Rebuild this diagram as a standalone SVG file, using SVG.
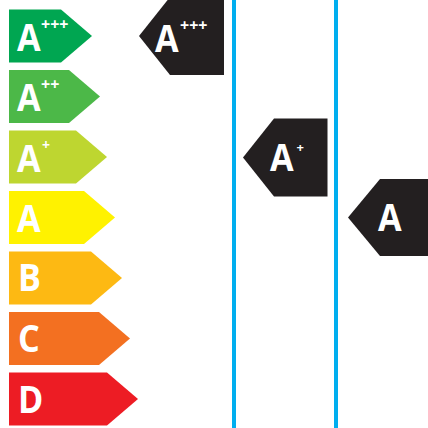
<svg xmlns="http://www.w3.org/2000/svg" width="428" height="428" viewBox="0 0 428 428">
<style>
.t{font-family:"Open Sans","Noto Sans",sans-serif;font-weight:bold;fill:#fff}
.big{font-size:38px}
.sup{font-size:16px}
.sup1{font-size:14px}
.sup2{font-size:13px}
.blk{fill:#231f20}
.blue{fill:#00aeef}
</style>
<rect width="428" height="428" fill="#fff"/>
<g id="scale">
<g id="g-appp"><polygon points="9,9.5 61,9.5 92,36 61,62.5 9,62.5" fill="#00a651"/><text class="t big" x="17" y="51" transform="translate(17 0) scale(0.9 1) translate(-17 0)">A</text><text class="t sup" x="41" y="29.5">+++</text></g>
<g id="g-app"><polygon points="9,70 69,70 100,96.5 69,123 9,123" fill="#4cb848"/><text class="t big" x="17" y="111" transform="translate(17 0) scale(0.9 1) translate(-17 0)">A</text><text class="t sup" x="41" y="89.5">++</text></g>
<g id="g-ap"><polygon points="9,130.5 76,130.5 107,157 76,183.5 9,183.5" fill="#bed630"/><text class="t big" x="17" y="172" transform="translate(17 0) scale(0.9 1) translate(-17 0)">A</text><text class="t sup1" x="42" y="150">+</text></g>
<g id="g-a"><polygon points="9,191 84,191 115,217.5 84,244 9,244" fill="#fff200"/><text class="t big" x="17" y="232" transform="translate(17 0) scale(0.9 1) translate(-17 0)">A</text></g>
<g id="g-b"><polygon points="9,251.5 91,251.5 122,278 91,304.5 9,304.5" fill="#fdb913"/><text class="t big" x="18" y="291" transform="translate(18 0) scale(0.9 1) translate(-18 0)">B</text></g>
<g id="g-c"><polygon points="9,312 99,312 130,338.5 99,365 9,365" fill="#f37021"/><text class="t big" x="18" y="352" transform="translate(18 0) scale(0.9 1) translate(-18 0)">C</text></g>
<g id="g-d"><polygon points="9,372.5 107,372.5 138,399 107,425.5 9,425.5" fill="#ed1c24"/><text class="t big" x="18" y="413" transform="translate(18 0) scale(0.9 1) translate(-18 0)">D</text></g>
</g>
<g id="dividers">
<rect class="blue" x="232" y="0" width="4" height="428"/>
<rect class="blue" x="334" y="0" width="4" height="428"/>
</g>
<g id="b-appp"><polygon class="blk" points="139,36 170,-3 224,-3 224,75 170,75"/><text class="t big" x="155" y="52" transform="translate(155 0) scale(0.9 1) translate(-155 0)">A</text><text class="t sup" x="180" y="31">+++</text></g>
<g id="b-ap"><polygon class="blk" points="243,157.5 274,118.5 327.5,118.5 327.5,196.5 274,196.5"/><text class="t big" x="270" y="171" transform="translate(270 0) scale(0.9 1) translate(-270 0)">A</text><text class="t sup2" x="296.5" y="151.5">+</text></g>
<g id="b-a"><polygon class="blk" points="348,217.5 380,179 430,179 430,256 380,256"/><text class="t big" x="378" y="231" transform="translate(378 0) scale(0.9 1) translate(-378 0)">A</text></g>
</svg>
